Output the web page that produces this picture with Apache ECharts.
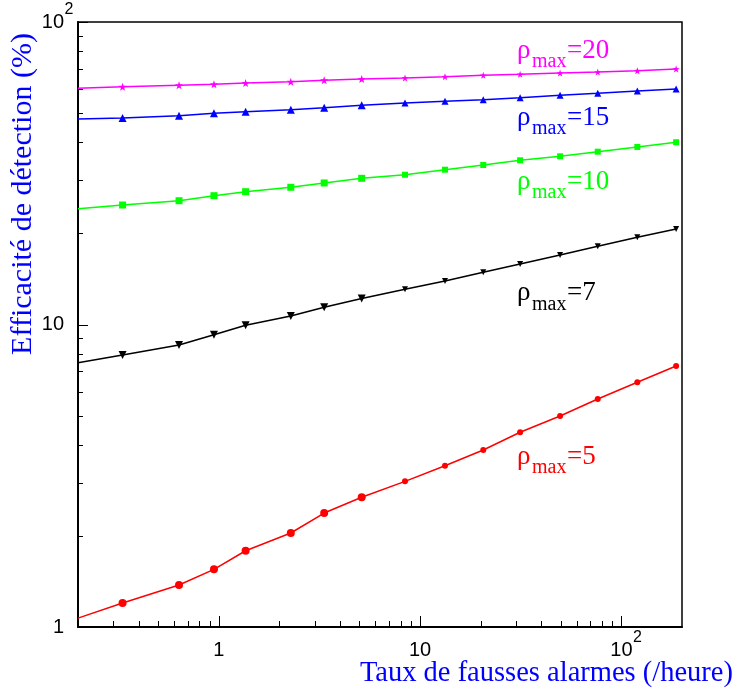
<!DOCTYPE html>
<html>
<head>
<meta charset="utf-8">
<script src="https://cdn.jsdelivr.net/npm/echarts@6/dist/echarts.min.js"></script>
<style>
html,body{margin:0;padding:0;background:#fff;}
#chart{width:738px;height:691px;}
</style>
</head>
<body>
<div id="chart"></div>
<script>
// ---- data ----
const xValues = [0.2, 0.333, 0.635, 0.947, 1.36, 2.28, 3.34, 5.13, 8.42, 13.3, 20.6, 31.4, 49.6, 76.3, 120, 187];
const eff5  = [1.07, 1.20, 1.377, 1.551, 1.787, 2.045, 2.381, 2.684, 3.03, 3.414, 3.847, 4.402, 4.984, 5.67, 6.44, 7.29];
const eff7  = [7.48, 7.93, 8.56, 9.25, 9.94, 10.67, 11.40, 12.19, 13.08, 13.93, 14.88, 15.85, 16.97, 18.14, 19.43, 20.69];
const eff10 = [24.14, 24.83, 25.66, 26.66, 27.48, 28.42, 29.37, 30.43, 31.27, 32.49, 33.67, 34.90, 35.97, 37.26, 38.63, 40.04];
const eff15 = [47.79, 48.15, 49.01, 49.91, 50.52, 51.30, 52.08, 53.04, 53.98, 54.69, 55.35, 56.21, 57.24, 58.12, 59.15, 60.05];
const eff20 = [60.37, 61.11, 61.76, 62.23, 62.85, 63.47, 64.16, 64.79, 65.29, 65.94, 66.64, 67.15, 67.82, 68.33, 69.02, 69.92];
const rhoValues = [5, 7, 10, 15, 20];
const xAxisTitle = 'Taux de fausses alarmes (/heure)';
const yAxisTitle = 'Efficacité de détection (%)';
const xRange = [0.2, 200];
const yRange = [1, 100];
const xMajorTicks = [1, 10, 100];
const xMinorTicks = [0.3, 0.4, 0.5, 0.6, 0.7, 0.8, 0.9, 2, 3, 4, 5, 6, 7, 8, 9, 20, 30, 40, 50, 60, 70, 80, 90];
const yMajorTicks = [1, 10, 100];
const yMinorTicks = [2, 3, 4, 5, 6, 7, 8, 9, 20, 30, 40, 50, 60, 70, 80, 90];

// ---- styling ----
const SERIF = '"Liberation Serif","Times New Roman",serif';
const SANS = '"Liberation Sans",Arial,Helvetica,sans-serif';
const starPath = 'path://M0,-10 L2.35,-3.24 L9.51,-3.09 L3.8,1.24 L5.88,8.09 L0,4 L-5.88,8.09 L-3.8,1.24 L-9.51,-3.09 L-2.35,-3.24 Z';

function pow10Label(v) {
  const e = Math.round(Math.log10(v));
  if (Math.abs(Math.log10(v) - e) > 1e-6) return null;
  return e;
}

const richCommon = {
  n: { fontSize: 20, lineHeight: 40, height: 20, fontFamily: SANS, color: '#000', padding: [10, 0, 10, 0], verticalAlign: 'top' },
  sup: { fontSize: 16, lineHeight: 40, height: 16, fontFamily: SANS, color: '#000', padding: [0, 0, 24, 0], verticalAlign: 'top', width: 10, align: 'left' },
  e: { fontSize: 16, lineHeight: 40, height: 16, fontFamily: SANS, color: '#000', width: 10, padding: [0, 0, 24, 0], verticalAlign: 'top' }
};

function line(name, vals, color, symbol, bigSize, smallSize, rotate) {
  return {
    type: 'line',
    name: name,
    data: xValues.map((x, i) => [x, vals[i]]),
    symbol: (v, p) => p.dataIndex === 0 ? 'none' : symbol,
    symbolSize: (v, p) => p.dataIndex <= 7 ? bigSize : smallSize,
    symbolRotate: rotate || 0,
    showAllSymbol: true,
    lineStyle: { color: color, width: 1.5 },
    itemStyle: { color: color, borderWidth: 0 },
    z: 5,
    clip: true
  };
}

function tickSeries(vals, horizontal, len) {
  return {
    type: 'custom',
    silent: true,
    clip: false,
    z: 3,
    data: vals.map(v => horizontal ? [v, yRange[0]] : [xRange[0], v]),
    renderItem: function (params, api) {
      const p = api.coord([api.value(0), api.value(1)]);
      if (horizontal) {
        const x = Math.round(p[0]) + 0.5;
        return { type: 'line', shape: { x1: x, y1: p[1], x2: x, y2: p[1] - len }, style: { stroke: '#000', lineWidth: 1 } };
      } else {
        const y = Math.round(p[1]) + 0.5;
        return { type: 'line', shape: { x1: p[0], y1: y, x2: p[0] + len, y2: y }, style: { stroke: '#000', lineWidth: 1 } };
      }
    }
  };
}

function rhoLabel(x, y, num, color) {
  return [
    { type: 'text', x: x, y: y, style: { text: 'ρ', font: '27px ' + SERIF, fill: color, align: 'left', verticalAlign: 'middle' } },
    { type: 'text', x: x + 15, y: y + 11, style: { text: 'max', font: '20px ' + SERIF, fill: color, align: 'left', verticalAlign: 'middle' } },
    { type: 'text', x: x + 50, y: y, style: { text: '=' + num, font: '27px ' + SERIF, fill: color, align: 'left', verticalAlign: 'middle' } }
  ];
}

const colors = ['#ff0000', '#000000', '#00ff00', '#0000ff', '#ff00ff'];
const labelY = [456.7, 293.3, 181.7, 117.7, 50.5];

const chart = echarts.init(document.getElementById('chart'), null, { renderer: 'canvas' });
chart.setOption({
  animation: false,
  backgroundColor: '#fff',
  grid: { left: 78, right: 56, top: 22, bottom: 64, show: true, borderColor: '#000', borderWidth: 1.5, backgroundColor: 'transparent' },
  xAxis: {
    type: 'log', logBase: 10, min: xRange[0], max: xRange[1],
    axisLine: { show: true, onZero: false, lineStyle: { color: '#000', width: 2 } },
    axisTick: { show: false },
    splitLine: { show: false },
    axisLabel: {
      margin: 3,
      showMinLabel: true, showMaxLabel: true,
      formatter: function (v) {
        const e = pow10Label(v);
        if (e === null) return '';
        if (e === 0) return '{n|1}';
        if (e === 1) return '{n|10}';
        return '{e| }{n|10}{sup|' + e + '}';
      },
      rich: richCommon
    }
  },
  yAxis: {
    type: 'log', logBase: 10, min: yRange[0], max: yRange[1],
    axisLine: { show: true, onZero: false, lineStyle: { color: '#000', width: 2 } },
    axisTick: { show: false },
    splitLine: { show: false },
    axisLabel: {
      margin: 4,
      formatter: function (v) {
        const e = pow10Label(v);
        if (e === null) return '';
        if (e === 0) return '{n|1}{e| }';
        if (e === 1) return '{n|10}{e| }';
        return '{n|10}{sup|' + e + '}';
      },
      rich: richCommon
    }
  },
  series: [
    tickSeries(xMajorTicks, true, 11),
    tickSeries(xMinorTicks, true, 6),
    tickSeries(yMajorTicks, false, 10),
    tickSeries(yMinorTicks, false, 5),
    line('rho5', eff5, colors[0], 'circle', 8, 6),
    line('rho7', eff7, colors[1], 'triangle', 8, 6, 180),
    line('rho10', eff10, colors[2], 'rect', 7, 6),
    line('rho15', eff15, colors[3], 'triangle', 8, 7),
    line('rho20', eff20, colors[4], starPath, 8, 7)
  ],
  graphic: [
    { type: 'text', x: 733, y: 673.5, style: { text: xAxisTitle, font: '28.5px ' + SERIF, fill: '#0000ff', align: 'right', verticalAlign: 'middle' } },
    { type: 'text', x: 23, y: 194, rotation: Math.PI / 2, style: { text: yAxisTitle, font: '30px ' + SERIF, fill: '#0000ff', align: 'center', verticalAlign: 'middle' } }
  ].concat(...rhoValues.map((r, i) => rhoLabel(517, labelY[i], r, colors[i])))
});
</script>
</body>
</html>
